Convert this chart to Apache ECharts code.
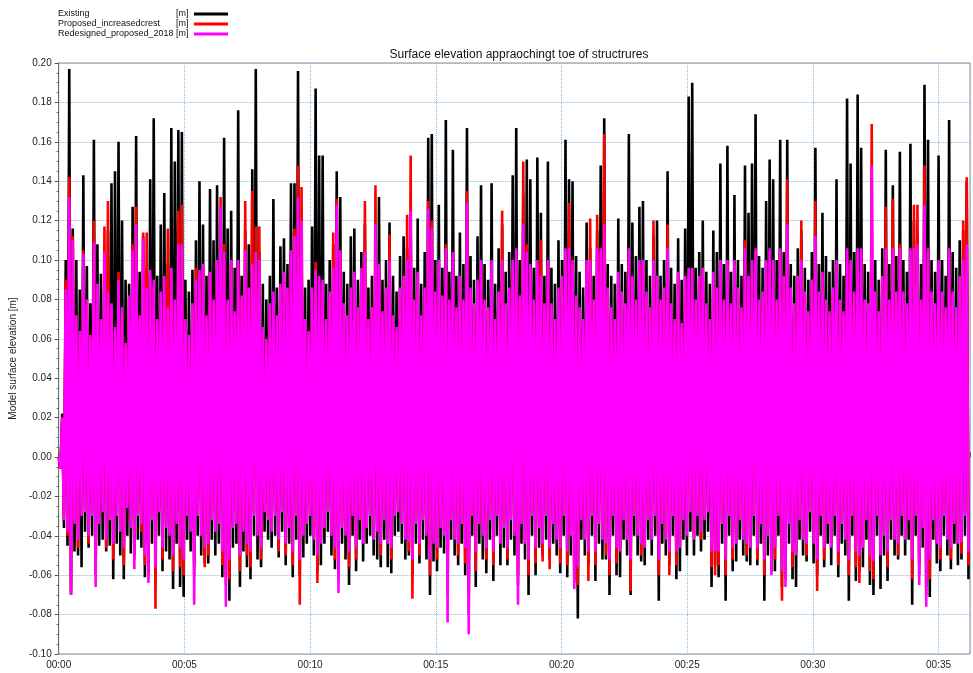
<!DOCTYPE html>
<html>
<head>
<meta charset="utf-8">
<script src="https://cdn.jsdelivr.net/npm/echarts@6/dist/echarts.min.js"></script>
<style>
html,body{margin:0;padding:0;background:#fff;}
#chart{width:973px;height:673px;}
</style>
</head>
<body>
<div id="chart"></div>
<script>
// Sample spacing (s) between successive crest / trough readings
const DT = 4.2;
const X_MAX = 2175; // ~00:36:15

const seriesNames = ['Existing', 'Proposed_increasedcrest', 'Redesigned_proposed_2018'];
const seriesColors = ['#000000', '#ff0000', '#ff00ff'];

// Values in mm: crest (upper) and trough (lower) of each wave
const existingCrest = [
0,22,100,197,116,100,85,143,97,78,
161,108,93,100,115,139,145,160,120,90,
88,127,163,94,112,96,141,172,92,118,
134,98,167,150,166,165,90,84,95,110,
140,118,92,136,110,138,118,162,116,125,
96,176,92,115,108,146,197,104,88,80,
92,131,86,107,111,98,139,139,196,108,
86,90,117,187,153,153,88,100,108,145,
132,94,88,112,116,90,104,118,86,92,
112,132,90,100,119,92,84,102,112,106,
120,96,121,88,104,162,164,100,128,96,
171,94,156,92,114,98,167,102,90,112,
138,98,90,139,88,106,118,94,104,143,
167,100,134,151,141,96,152,124,92,150,
96,88,110,100,161,141,140,102,94,86,
119,106,92,115,148,172,98,92,88,121,
98,94,164,119,102,127,130,100,92,112,
120,92,100,145,96,88,111,90,116,183,
190,96,104,120,94,88,115,104,149,98,
158,94,133,100,92,148,124,149,174,102,
96,130,151,141,100,161,104,161,98,92,
106,115,96,90,104,157,98,124,102,94,
100,141,98,92,182,149,104,184,157,98,
94,120,100,90,106,156,98,138,102,155,
100,94,159,120,115,98,189,161,100,94,
153,100,92,171,104,96,110,115,140
];
const existingTrough = [
-6,-36,-45,-70,-48,-50,-56,-38,-46,-40,
-58,-45,-42,-48,-45,-62,-44,-50,-62,-40,
-49,-50,-42,-46,-61,-58,-44,-60,-40,-58,
-48,-52,-67,-44,-66,-71,-42,-48,-55,-40,
-50,-54,-54,-42,-50,-44,-61,-60,-73,-46,
-44,-66,-48,-56,-62,-40,-52,-56,-38,-42,
-46,-40,-51,-38,-55,-44,-61,-42,-60,-51,
-44,-40,-50,-58,-55,-44,-38,-50,-57,-60,
-44,-52,-65,-40,-58,-42,-53,-44,-40,-50,
-52,-56,-42,-56,-59,-40,-38,-44,-52,-50,
-60,-44,-54,-42,-52,-70,-53,-58,-46,-49,
-60,-42,-50,-55,-44,-60,-70,-40,-66,-44,
-52,-59,-42,-63,-40,-55,-46,-55,-42,-50,
-60,-44,-52,-70,-40,-60,-46,-50,-42,-52,
-44,-50,-59,-40,-61,-50,-62,-82,-42,-50,
-55,-40,-63,-44,-52,-52,-70,-40,-60,-61,
-42,-50,-70,-40,-50,-53,-55,-42,-50,-40,
-73,-44,-50,-55,-40,-62,-58,-42,-50,-38,
-50,-40,-48,-42,-38,-66,-55,-61,-44,-73,
-40,-58,-53,-42,-50,-53,-55,-40,-55,-44,
-73,-50,-58,-58,-40,-66,-60,-44,-62,-66,
-42,-50,-53,-38,-54,-60,-40,-56,-44,-55,
-40,-61,-44,-50,-73,-40,-63,-58,-56,-42,
-65,-70,-40,-67,-50,-63,-42,-50,-52,-40,
-50,-42,-75,-40,-55,-46,-66,-71,-42,-54,
-58,-40,-50,-57,-44,-55,-52,-40,-62
];
const proposedCrest = [
0,20,90,142,112,70,62,105,78,60,
120,86,68,117,130,76,64,94,74,56,
80,108,127,70,114,114,93,88,68,82,
90,116,94,78,125,128,68,60,76,96,
93,96,70,92,78,98,132,108,78,98,
72,98,80,130,84,135,117,117,64,58,
76,82,70,86,92,84,103,116,148,137,
68,62,84,99,90,88,68,82,114,131,
103,76,70,84,92,74,94,130,68,74,
138,96,72,84,113,70,64,84,90,123,
153,78,92,70,84,130,120,82,98,80,
108,78,102,74,90,78,135,84,76,88,
98,78,74,98,68,82,125,76,84,98,
104,80,150,108,96,78,98,110,76,98,
76,68,84,90,104,129,98,80,74,68,
98,121,78,123,104,164,84,74,68,92,
82,76,104,90,78,98,98,82,74,120,
90,78,84,118,76,68,92,66,90,94,
94,78,90,94,76,68,92,84,98,78,
98,76,98,84,74,110,90,98,104,78,
82,98,104,98,78,104,90,141,84,76,
90,120,82,72,88,130,82,92,78,72,
84,98,78,72,104,98,82,104,104,78,
76,169,82,72,90,127,78,131,82,108,
82,76,104,128,128,78,148,104,82,76,
98,82,74,104,82,74,90,120,142
];
const proposedTrough = [
-6,-30,-40,-68,-32,-46,-28,-26,-44,-28,
-60,-32,-26,-46,-30,-52,-28,-36,-55,-24,
-34,-52,-28,-38,-55,-60,-30,-77,-26,-52,
-34,-38,-58,-32,-56,-60,-28,-36,-60,-28,
-38,-56,-50,-30,-36,-32,-55,-65,-62,-34,
-32,-58,-36,-50,-56,-28,-38,-52,-26,-30,
-36,-28,-48,-26,-50,-34,-55,-28,-75,-38,
-32,-28,-40,-64,-42,-34,-26,-38,-52,-62,
-34,-38,-56,-28,-52,-30,-42,-34,-28,-40,
-36,-50,-30,-42,-52,-28,-26,-32,-40,-48,
-72,-32,-50,-30,-38,-60,-42,-52,-34,-38,
-70,-30,-40,-50,-32,-54,-80,-28,-58,-32,
-38,-52,-30,-55,-28,-42,-34,-52,-30,-38,
-65,-32,-42,-60,-28,-54,-34,-53,-28,-57,
-32,-40,-54,-28,-55,-38,-64,-65,-30,-40,
-63,-28,-55,-32,-40,-50,-60,-28,-54,-46,
-30,-40,-68,-28,-38,-50,-44,-30,-40,-28,
-60,-32,-40,-60,-28,-55,-44,-30,-38,-26,
-40,-28,-42,-30,-26,-56,-60,-55,-32,-60,
-28,-52,-42,-30,-40,-50,-44,-28,-52,-32,
-60,-38,-58,-52,-28,-73,-62,-32,-56,-48,
-30,-40,-50,-26,-42,-68,-28,-52,-32,-44,
-28,-55,-32,-40,-60,-28,-56,-64,-44,-30,
-58,-62,-28,-48,-38,-56,-30,-40,-50,-28,
-40,-30,-62,-28,-60,-34,-70,-62,-30,-42,
-52,-28,-40,-52,-32,-42,-49,-28,-55
];
const redesignedCrest = [
0,20,85,132,110,72,64,103,80,62,
109,88,70,104,84,78,66,90,76,58,
82,105,118,72,111,86,95,90,70,84,
92,76,96,80,108,108,70,62,78,90,
95,98,72,94,80,100,127,104,80,100,
74,100,82,105,86,98,104,100,66,60,
78,84,72,88,94,86,105,112,132,120,
70,64,86,95,92,90,70,84,96,128,
105,78,72,86,94,76,96,104,70,76,
118,98,74,86,100,72,66,86,92,100,
125,80,94,72,86,126,116,84,100,82,
106,80,104,76,92,80,129,86,78,90,
100,80,76,100,70,84,100,78,86,100,
106,82,118,104,98,80,100,92,78,100,
78,70,86,92,106,106,100,82,76,70,
100,100,80,106,106,118,86,76,70,94,
84,78,106,92,80,100,100,84,76,100,
92,80,86,106,78,70,94,68,92,96,
96,80,92,96,78,70,94,86,100,80,
100,78,100,86,76,106,92,100,106,80,
84,100,106,100,80,106,92,118,86,78,
92,100,84,74,90,112,84,94,80,74,
86,100,80,74,106,100,84,106,106,80,
78,148,84,74,92,106,80,106,84,106,
84,78,106,106,108,80,128,106,84,78,
100,84,76,106,84,76,92,100,108
];
const redesignedTrough = [
-6,-32,-38,-70,-34,-42,-30,-28,-40,-30,
-66,-34,-28,-42,-32,-44,-30,-38,-46,-26,
-36,-57,-30,-34,-50,-64,-32,-56,-28,-46,
-36,-40,-50,-34,-46,-52,-30,-38,-75,-30,
-40,-46,-44,-32,-38,-34,-48,-76,-52,-36,
-34,-50,-38,-44,-48,-30,-40,-46,-28,-32,
-38,-30,-42,-28,-44,-36,-48,-30,-52,-40,
-34,-30,-42,-50,-44,-36,-28,-40,-46,-69,
-36,-40,-48,-30,-46,-32,-44,-36,-30,-42,
-38,-44,-32,-44,-46,-30,-28,-34,-42,-43,
-52,-34,-44,-32,-40,-52,-44,-46,-36,-40,
-84,-32,-42,-44,-34,-46,-90,-30,-48,-34,
-40,-46,-32,-48,-30,-44,-36,-46,-32,-40,
-75,-34,-44,-52,-30,-46,-36,-44,-30,-46,
-34,-42,-46,-30,-48,-40,-67,-56,-32,-42,
-48,-30,-48,-34,-42,-44,-52,-30,-46,-48,
-32,-42,-52,-30,-40,-44,-46,-32,-42,-30,
-52,-34,-42,-48,-30,-48,-46,-32,-40,-28,
-42,-30,-38,-32,-28,-48,-48,-48,-34,-52,
-30,-46,-44,-32,-42,-44,-46,-30,-46,-34,
-52,-40,-60,-46,-30,-58,-66,-34,-48,-50,
-32,-42,-44,-28,-44,-52,-30,-46,-34,-46,
-30,-48,-34,-42,-52,-30,-48,-50,-46,-32,
-50,-53,-30,-50,-40,-48,-32,-42,-44,-30,
-42,-32,-52,-30,-65,-36,-76,-52,-32,-44,
-46,-30,-42,-46,-34,-44,-43,-30,-48
];

const yTicks = { min: -0.10, max: 0.20, step: 0.02 };
const xTickStepSec = 300; // 5 minutes

function build(crest, trough) {
  const out = [];
  for (let k = 0; k < crest.length; k++) {
    out.push([(2 * k) * DT, crest[k] / 1000]);
    out.push([(2 * k + 1) * DT, trough[k] / 1000]);
  }
  return out;
}

const dataSets = [
  build(existingCrest, existingTrough),
  build(proposedCrest, proposedTrough),
  build(redesignedCrest, redesignedTrough)
];

const FONT = '"Liberation Sans", Arial, sans-serif';
const chart = echarts.init(document.getElementById('chart'), null, { renderer: 'canvas' });

chart.setOption({
  backgroundColor: '#ffffff',
  animation: false,
  title: {
    text: 'Surface elevation appraochingt toe of structrures',
    left: 514,
    textAlign: 'center',
    top: 44,
    textStyle: { fontSize: 12, fontWeight: 'normal', color: '#111', fontFamily: FONT }
  },
  legend: {
    orient: 'vertical',
    left: 58,
    top: 9,
    padding: 0,
    align: 'right',
    itemGap: 0,
    itemWidth: 34,
    itemHeight: 3,
    icon: 'rect',
    data: seriesNames,
    formatter: function (name) { return '{n|' + name + '}{u|[m]}'; },
    textStyle: {
      fontSize: 9, lineHeight: 10, color: '#111', fontFamily: FONT,
      rich: {
        n: { width: 118, align: 'left', fontSize: 9, lineHeight: 10, fontFamily: FONT, color: '#111' },
        u: { width: 13, align: 'left', fontSize: 9, lineHeight: 10, fontFamily: FONT, color: '#111' }
      }
    }
  },
  grid: {
    left: 57, right: 3, top: 63, bottom: 19,
    show: true, borderColor: '#8a8a8a', borderWidth: 1, backgroundColor: 'transparent'
  },
  xAxis: {
    type: 'value',
    min: 0,
    max: X_MAX,
    interval: xTickStepSec,
    axisLine: { show: true, lineStyle: { color: '#6f6f6f', width: 1 } },
    axisTick: { show: true, inside: true, length: 5, lineStyle: { color: '#555' } },
    minorTick: { show: true, splitNumber: 5, length: 3, lineStyle: { color: '#555' } },
    axisLabel: {
      fontSize: 10, color: '#222', fontFamily: FONT, margin: 6, showMaxLabel: false,
      formatter: function (v) { return '00:' + String(Math.round(v / 60)).padStart(2, '0'); }
    },
    splitLine: { show: true, lineStyle: { type: 'dotted', color: '#8fb6de', width: 1 } }
  },
  yAxis: {
    type: 'value',
    min: yTicks.min,
    max: yTicks.max,
    interval: yTicks.step,
    name: 'Model surface elevation [m]',
    nameLocation: 'middle',
    nameGap: 33,
    nameTextStyle: { fontSize: 10, color: '#222', fontFamily: FONT },
    axisLine: { show: true, lineStyle: { color: '#6f6f6f', width: 1 } },
    axisTick: { show: true, inside: false, length: 4, lineStyle: { color: '#555' } },
    minorTick: { show: true, splitNumber: 4, length: 2, lineStyle: { color: '#555' } },
    axisLabel: {
      fontSize: 10, color: '#222', fontFamily: FONT, margin: 7,
      formatter: function (v) { return v.toFixed(2); }
    },
    splitLine: { show: true, lineStyle: { type: 'dotted', color: '#8fb6de', width: 1 } }
  },
  series: seriesNames.map(function (name, i) {
    return {
      name: name,
      type: 'line',
      data: dataSets[i],
      showSymbol: false,
      symbol: 'none',
      z: 2 + i,
      lineStyle: { color: seriesColors[i], width: 2.6, join: 'bevel' },
      itemStyle: { color: seriesColors[i] },
      emphasis: { disabled: true }
    };
  })
});
</script>
</body>
</html>
